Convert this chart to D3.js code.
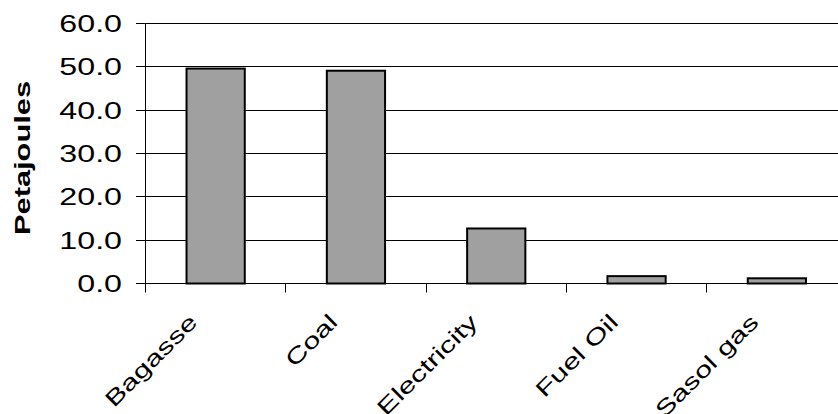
<!DOCTYPE html>
<html>
<head>
<meta charset="utf-8">
<script src="https://cdn.jsdelivr.net/npm/d3@7"></script>
<style>
  html, body { margin: 0; padding: 0; background: #fff; }
  svg { display: block; }
  text { font-family: "Liberation Sans", Arial, sans-serif; fill: #000; }
</style>
</head>
<body>
<script>
const categories = ["Bagasse", "Coal", "Electricity", "Fuel Oil", "Sasol gas"];
const values = [49.6, 49.1, 12.7, 1.7, 1.2];
const yTicks = [0, 10, 20, 30, 40, 50, 60];
const yTickLabels = ["0.0", "10.0", "20.0", "30.0", "40.0", "50.0", "60.0"];
const yTitle = "Petajoules";

const W = 838, H = 414;
const mLeft = 145.5, mRight = 847, mTop = 23.5, mBottom = 283.5;

const svg = d3.select("body").append("svg").attr("width", W).attr("height", H);

const x = d3.scaleBand().domain(categories).range([mLeft, mRight]).padding(0);
const y = d3.scaleLinear().domain([0, 60]).range([mBottom, mTop]);
const py = v => Math.round(y(v) - 0.5) + 0.5;

// gridlines
svg.append("g").selectAll("line").data(yTicks.filter(v => v > 0)).join("line")
  .attr("x1", mLeft).attr("x2", mRight)
  .attr("y1", py).attr("y2", py)
  .attr("stroke", "#000").attr("stroke-width", 1);

// bars
const barW = x.bandwidth() * 0.415;
svg.append("g").selectAll("rect").data(values).join("rect")
  .attr("x", (d, i) => x(categories[i]) + x.bandwidth() / 2 - barW / 2)
  .attr("y", d => y(d))
  .attr("width", barW)
  .attr("height", d => y(0) - y(d))
  .attr("fill", "#a0a0a0")
  .attr("stroke", "#000")
  .attr("stroke-width", 2);

// y axis
const yAxis = svg.append("g").attr("transform", `translate(${mLeft - 0.5},0)`)
  .call(d3.axisLeft(y).tickValues(yTicks).tickSize(9).tickSizeOuter(0)
    .tickFormat((d, i) => yTickLabels[i]));
yAxis.select(".domain").attr("stroke", "#000").attr("d", `M0.5,${mTop}V${mBottom}`);
yAxis.selectAll(".tick").attr("transform", d => `translate(0,${py(d)})`);
yAxis.selectAll(".tick line").attr("stroke", "#000").attr("x1", 0.5).attr("x2", -9);
yAxis.selectAll(".tick text")
  .attr("x", 0).attr("dy", "0.36em")
  .attr("font-size", 23)
  .attr("text-anchor", "end")
  .attr("transform", "translate(-23,0) scale(1.4,1)")
  .style("font-family", '"Liberation Sans", Arial, sans-serif');

// x axis
const xAxisG = svg.append("g");
xAxisG.append("line").attr("x1", mLeft).attr("x2", mRight)
  .attr("y1", mBottom).attr("y2", mBottom).attr("stroke", "#000");
const bounds = categories.map(c => x(c)).concat([x.range()[1]]);
xAxisG.selectAll("line.tk").data(bounds).join("line").attr("class", "tk")
  .attr("x1", d => Math.round(d - 0.5) + 0.5).attr("x2", d => Math.round(d - 0.5) + 0.5)
  .attr("y1", mBottom).attr("y2", mBottom + 9)
  .attr("stroke", "#000");
xAxisG.selectAll("text").data(categories).join("text")
  .attr("text-anchor", "end")
  .attr("font-size", 22)
  .attr("transform", d => `translate(${x(d) + x.bandwidth() / 2 - 17},${mBottom + 40}) rotate(-45) scale(1.4,1)`)
  .text(d => d);

// y title
svg.append("text")
  .attr("text-anchor", "middle")
  .attr("font-size", 22.5)
  .attr("font-weight", "bold")
  .attr("transform", "translate(30,158) rotate(-90) scale(1.37,1)")
  .text(yTitle);
</script>
</body>
</html>
